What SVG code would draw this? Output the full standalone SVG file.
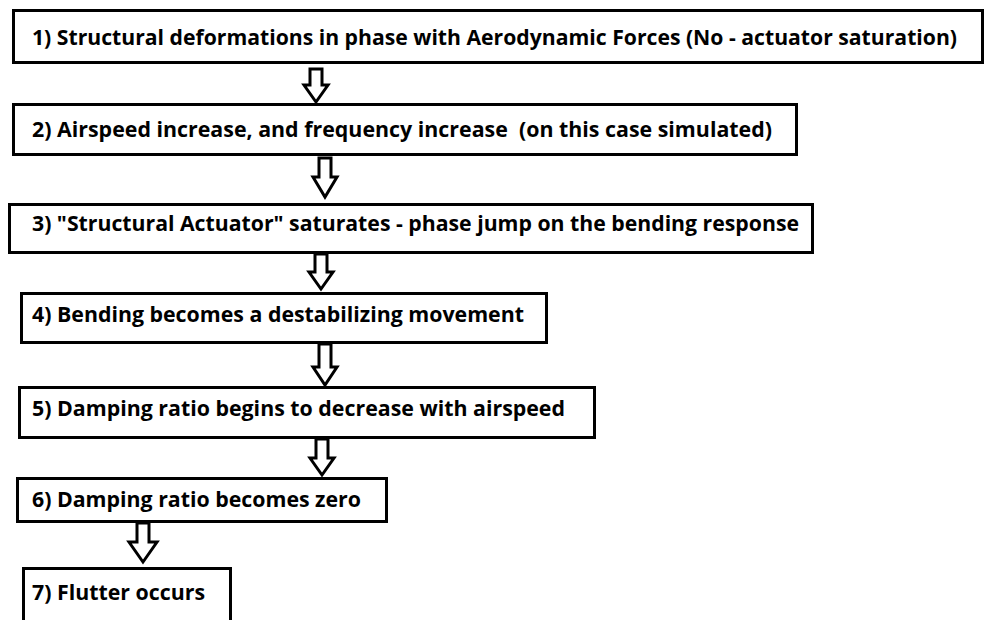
<svg xmlns="http://www.w3.org/2000/svg" width="986" height="620" viewBox="0 0 986 620">
<style>
.box{fill:#fff;stroke:#000;stroke-width:3}
.t{font-family:"Open Sans","Noto Sans","Liberation Sans",sans-serif;font-weight:bold;font-size:21px;fill:#000}
.arr{fill:#fff;stroke:#000;stroke-width:3;stroke-linejoin:miter}
</style>
<rect width="986" height="620" fill="#fff"/>
<g id="connectors">
<path class="arr" d="M310,69 H322 V85 H328 L316,102 L304,85 H310 Z"/>
<path class="arr" d="M319,158 H331 V177 H337 L325,197 L313,177 H319 Z"/>
<path class="arr" d="M315,254 H327 V272 H333 L321,289 L309,272 H315 Z"/>
<path class="arr" d="M319,344 H331 V367 H337 L325,385 L313,367 H319 Z"/>
<path class="arr" d="M316,439 H328 V458 H334 L322,475 L310,458 H316 Z"/>
<path class="arr" d="M137,523 H149 V542 H157 L143,562 L129,542 H137 Z"/>
</g>
<g id="n1"><rect class="box" x="13.5" y="10.5" width="969" height="52"/><text class="t" x="32" y="45" textLength="925" lengthAdjust="spacingAndGlyphs">1) Structural deformations in phase with Aerodynamic Forces (No - actuator saturation)</text></g>
<g id="n2"><rect class="box" x="13.5" y="104.5" width="783" height="50"/><text class="t" x="32" y="137" textLength="740" lengthAdjust="spacingAndGlyphs" xml:space="preserve">2) Airspeed increase, and frequency increase  (on this case simulated)</text></g>
<g id="n3"><rect class="box" x="9.5" y="204.5" width="803" height="48"/><text class="t" x="32" y="231" textLength="767" lengthAdjust="spacingAndGlyphs">3) "Structural Actuator" saturates - phase jump on the bending response</text></g>
<g id="n4"><rect class="box" x="21.5" y="293.5" width="525" height="49"/><text class="t" x="32" y="322" textLength="492" lengthAdjust="spacingAndGlyphs">4) Bending becomes a destabilizing movement</text></g>
<g id="n5"><rect class="box" x="19.5" y="387.5" width="575" height="50"/><text class="t" x="32" y="416" textLength="533" lengthAdjust="spacingAndGlyphs">5) Damping ratio begins to decrease with airspeed</text></g>
<g id="n6"><rect class="box" x="17.5" y="478.5" width="369" height="43"/><text class="t" x="32" y="507" textLength="329" lengthAdjust="spacingAndGlyphs">6) Damping ratio becomes zero</text></g>
<g id="n7"><rect class="box" x="23.5" y="568.5" width="207" height="70"/><text class="t" x="32" y="600" textLength="173" lengthAdjust="spacingAndGlyphs">7) Flutter occurs</text></g>
</svg>
